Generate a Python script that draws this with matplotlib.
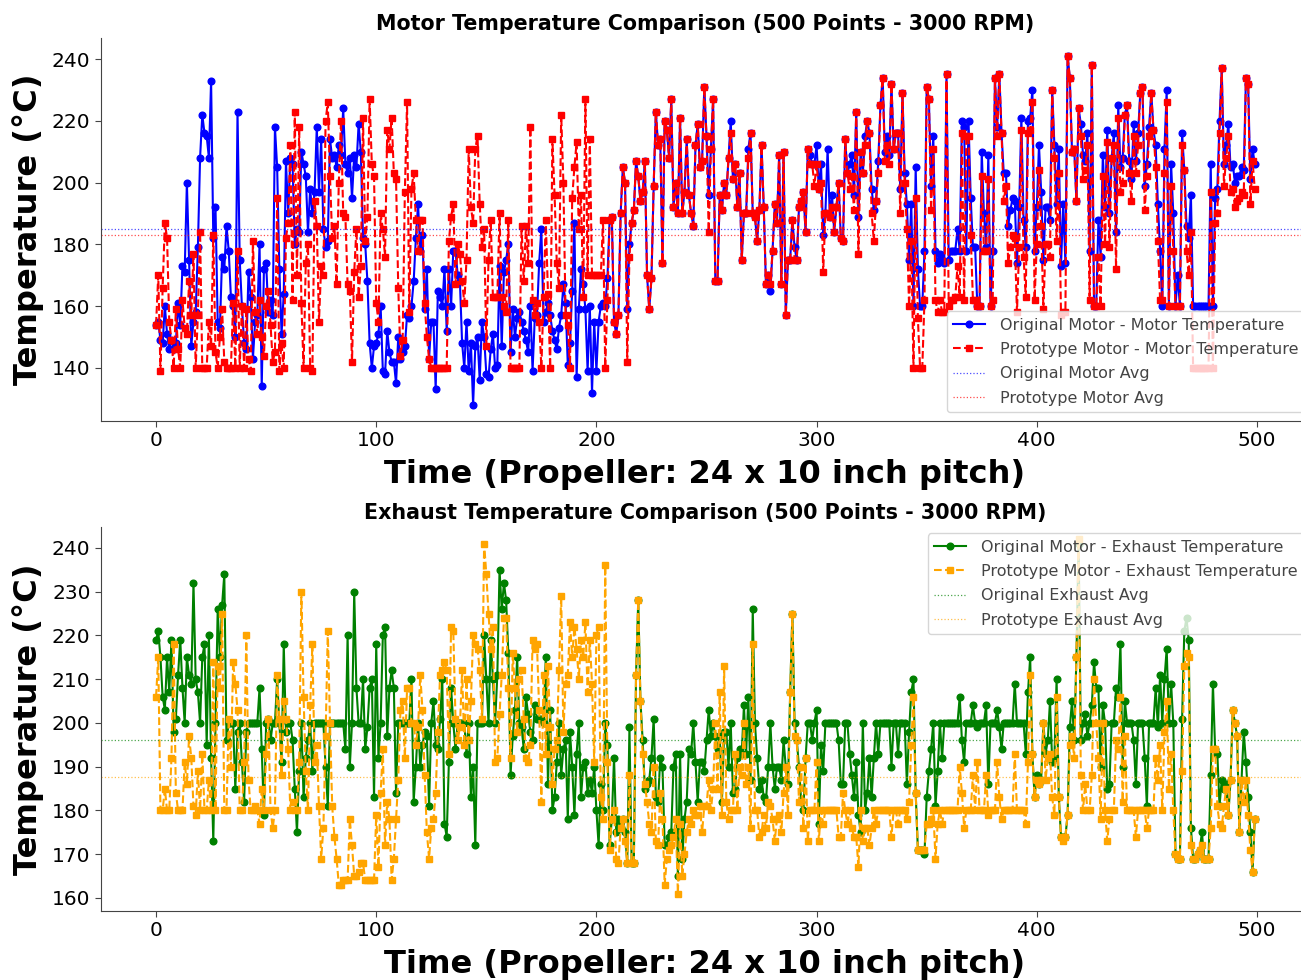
import matplotlib
matplotlib.use('Agg')
import matplotlib.pyplot as plt
import numpy as np

orig_motor = [
154,155,149,148,160,151,146,149,146,148,161,154,173,171,200,175,147,155,158,179,
208,222,216,215,208,233,182,192,155,153,176,172,186,178,163,160,150,223,175,160,
148,146,171,163,143,155,157,180,134,172,174,158,162,157,218,205,172,151,164,207,
190,208,206,180,185,184,210,206,202,184,198,190,197,218,197,214,185,179,181,214,
208,209,205,212,209,224,206,203,208,195,209,205,219,210,182,180,168,148,140,147,
148,151,160,139,138,152,145,142,142,135,150,143,145,147,157,156,160,168,182,193,
178,183,159,172,143,155,155,133,165,163,160,172,152,172,160,178,178,170,168,148,
140,155,139,148,128,147,150,136,155,150,138,137,146,151,140,141,173,147,171,175,
180,145,159,150,156,158,155,152,149,145,160,139,156,157,174,185,155,158,161,157,
152,149,146,153,157,167,161,141,148,165,187,137,159,172,167,159,139,160,132,155,
139,155,160,161,160,169,188,189,155,151,157,190,205,200,159,180,187,191,207,202,
194,197,207,170,159,169,199,223,212,214,174,220,217,208,227,192,200,190,221,190,
197,214,196,190,186,212,219,205,207,231,215,196,211,227,168,168,196,191,200,196,
208,220,201,206,192,203,175,190,190,211,216,190,189,181,191,212,192,167,170,165,
178,193,187,209,167,210,157,175,175,188,179,175,192,194,197,184,211,209,206,206,
212,198,206,183,190,211,189,196,184,192,200,182,181,214,203,206,209,196,223,189,
210,203,215,220,216,198,191,194,207,225,234,210,215,209,232,211,216,216,198,229,
203,193,175,193,160,205,172,160,160,178,231,227,199,215,178,174,177,175,174,235,
175,178,178,178,185,178,220,218,178,220,195,179,179,160,160,210,190,179,209,160,
178,234,218,235,216,203,203,186,191,195,194,174,192,221,188,179,220,221,230,178,
192,212,197,175,192,192,188,230,212,193,211,173,193,174,241,234,210,211,194,224,
219,209,207,216,178,238,160,160,188,176,209,192,217,190,208,216,184,225,205,208,
222,225,207,201,219,207,216,229,231,199,206,218,229,217,212,193,178,160,211,230,
160,206,190,160,170,160,216,204,186,182,196,160,160,160,160,160,160,160,160,206,
160,195,198,220,237,206,212,219,205,206,200,202,202,205,204,234,232,201,211,206,
]

proto_motor = [
154,170,139,166,187,182,155,149,140,159,146,140,162,153,151,168,157,177,140,157,
184,140,140,140,155,147,183,145,140,150,159,142,140,140,140,161,140,178,140,160,
140,159,143,139,181,158,151,162,150,144,160,165,154,142,145,195,139,148,140,182,
187,212,162,223,170,218,161,140,174,180,140,139,194,186,155,173,170,220,226,202,
182,186,167,200,220,190,189,167,165,142,171,185,163,173,221,181,189,227,206,202,
161,155,190,185,176,217,211,221,203,201,166,144,149,197,226,158,198,203,188,178,
188,188,161,150,143,140,140,140,140,140,140,140,140,181,189,193,167,180,177,168,
161,175,211,192,187,211,215,193,179,185,147,175,188,163,163,163,190,163,160,158,
188,140,140,140,140,140,186,168,186,174,218,162,157,161,155,140,163,188,164,140,
214,196,174,166,222,200,157,154,140,195,205,213,185,196,163,227,170,214,170,170,
170,170,170,188,140,162,188,189,155,151,157,190,205,200,142,176,187,191,207,202,
194,197,207,170,159,169,199,223,212,214,174,220,217,208,227,192,200,190,221,190,
197,214,196,190,186,212,219,205,207,231,215,184,211,227,168,168,196,191,200,196,
208,216,201,206,192,203,175,190,190,208,216,190,189,181,191,212,192,167,170,167,
178,193,187,209,167,210,157,175,175,188,175,175,192,194,197,184,211,206,206,199,
206,198,200,171,190,190,189,192,184,192,200,182,181,214,203,198,202,191,223,177,
210,203,212,220,216,190,181,194,203,225,234,207,212,206,232,211,216,216,190,229,
200,185,160,181,140,195,156,140,140,162,231,227,191,211,162,158,162,158,158,235,
160,162,162,163,173,163,216,162,215,215,183,162,162,160,160,202,178,178,201,160,
162,234,215,235,216,194,199,174,179,183,182,158,179,217,176,163,216,217,226,162,
180,204,186,159,180,180,176,230,208,181,203,157,158,158,241,234,210,211,194,224,
215,201,204,212,162,238,160,160,176,160,202,180,213,179,208,212,172,221,197,200,
222,225,203,194,215,203,212,229,231,191,202,215,229,217,205,181,162,162,203,226,
160,199,178,160,160,160,212,204,178,170,184,140,140,140,140,140,140,140,140,197,
140,187,190,216,237,199,208,215,197,198,192,194,195,197,196,234,232,193,207,198,
]

orig_exhaust = [
219,221,215,206,203,215,207,219,198,201,211,219,208,200,215,211,209,232,210,207,
200,215,218,195,220,192,173,200,226,215,227,234,196,200,200,200,185,198,200,191,
182,198,200,200,200,200,200,208,194,179,200,201,196,200,200,210,200,191,218,198,
200,200,196,185,175,189,200,183,192,196,200,189,200,200,200,200,200,190,181,200,
200,200,200,200,200,200,194,220,190,200,230,208,200,200,210,194,199,208,210,183,
218,192,200,220,222,197,208,212,208,184,200,200,200,200,200,200,210,182,190,200,
190,195,198,197,181,200,205,195,194,201,210,177,174,191,208,200,194,200,200,200,
200,193,200,183,190,172,200,200,200,220,210,200,219,210,200,211,235,226,232,228,
216,188,197,203,215,200,199,194,206,202,198,196,204,201,201,201,200,215,186,203,
180,183,191,200,188,194,196,178,198,190,179,193,200,183,190,191,184,187,184,190,
180,172,186,180,200,195,172,178,192,175,178,176,178,175,168,199,168,168,211,228,
205,196,185,186,187,192,201,183,182,192,190,172,172,174,175,190,193,165,193,169,
178,182,194,193,200,191,182,191,191,189,196,203,197,200,197,194,197,182,198,198,
190,200,184,185,192,194,193,204,193,206,187,226,200,192,185,187,183,182,190,200,
190,185,190,190,187,196,190,186,207,225,200,196,190,182,180,192,200,200,196,200,
203,177,195,189,200,200,200,200,200,200,196,186,186,200,200,193,188,183,191,179,
175,200,180,184,192,183,192,200,193,200,200,200,200,200,190,200,200,193,200,200,
200,186,198,207,210,184,171,171,171,170,183,189,194,200,181,189,200,192,200,200,
200,200,200,200,200,206,196,191,200,200,200,204,200,199,200,200,200,204,186,200,
200,200,203,199,194,200,200,200,200,200,209,200,200,200,200,193,207,215,193,183,
188,186,187,200,193,196,205,191,192,210,183,174,174,174,179,199,205,196,215,241,
196,200,202,197,200,204,214,208,208,190,204,200,185,186,200,200,208,206,218,190,
205,200,200,200,196,186,200,200,200,192,181,200,200,200,208,199,211,200,210,217,
200,209,200,170,169,169,201,221,224,219,176,169,169,170,171,175,169,169,169,188,
209,194,193,181,187,185,186,179,187,203,200,197,175,187,198,191,183,175,166,178,
]

proto_exhaust = [
206,215,180,180,185,180,180,192,218,184,180,180,180,191,186,197,192,181,179,189,
180,193,180,180,187,180,214,180,213,208,225,180,180,201,190,214,209,203,180,180,
191,220,187,180,180,181,180,177,185,180,193,201,180,176,180,211,201,188,205,201,
194,180,182,180,180,191,230,206,189,180,204,218,191,195,181,169,176,197,221,200,
181,174,169,163,163,164,164,164,178,172,165,165,166,168,168,164,164,164,164,164,
179,167,184,194,172,182,178,164,169,178,187,203,205,192,208,208,200,200,195,199,
211,203,188,175,169,176,178,184,198,211,212,214,212,193,222,221,201,196,199,212,
195,210,196,205,220,218,217,212,201,241,234,225,217,222,191,192,202,211,224,224,
208,192,216,208,198,210,212,201,192,191,195,219,217,218,203,182,211,193,213,199,
186,194,196,212,229,198,209,211,223,215,222,217,210,219,215,223,207,219,209,191,
220,222,183,178,236,191,171,178,180,169,168,176,178,173,168,188,168,168,211,228,
205,193,186,182,177,175,190,173,172,184,178,163,169,171,172,174,178,161,177,165,
170,175,178,177,180,179,179,181,175,181,181,187,180,185,200,185,207,179,213,182,
178,180,180,193,180,190,188,200,186,190,176,218,180,180,174,175,179,176,182,181,
178,173,178,179,175,184,190,179,207,225,197,196,182,190,176,192,173,180,180,180,
191,173,180,177,180,180,180,180,180,180,174,174,184,180,177,180,176,174,174,167,
180,173,176,176,172,176,180,177,180,180,180,180,180,180,174,180,180,177,180,180,
180,178,182,195,206,184,171,171,171,171,177,177,178,180,169,177,180,177,180,180,
180,180,180,180,180,190,184,176,180,180,180,188,180,191,180,180,180,188,179,180,
180,180,191,183,178,180,180,180,180,180,193,180,180,180,180,177,191,211,193,183,
187,186,187,200,187,192,193,183,179,206,183,174,173,174,179,195,197,192,215,242,
188,180,186,180,180,188,210,200,192,178,200,180,173,178,180,180,196,194,206,182,
197,180,180,180,180,174,180,180,180,180,176,180,180,180,192,187,195,180,198,205,
185,193,180,170,169,169,189,213,216,215,172,169,169,170,171,172,169,169,169,176,
194,194,181,177,176,181,185,179,187,203,200,197,175,187,182,187,179,171,166,178,
]

orig_motor_avg = 185
proto_motor_avg = 183
orig_exhaust_avg = 196
proto_exhaust_avg = 187.7

W, H = 1301, 980


def px_axes(fig, left, top, right, bottom):
    return fig.add_axes([left / W, 1 - bottom / H, (right - left) / W, (bottom - top) / H])


def draw_panel(ax, y1, y2, avg1, avg2, c1, c2, lab1, lab2, avg_lab1, avg_lab2, title, ylim, yticks, legend_xy):
    ax.plot(np.arange(len(y1)), y1, color=c1, marker='o', ms=4.8, lw=1.5, label=lab1)
    ax.plot(np.arange(len(y2)), y2, color=c2, marker='s', ms=4.8, lw=1.5, ls='--', label=lab2)
    ax.axhline(avg1, color=c1, ls=':', lw=0.9, alpha=0.7, label=avg_lab1)
    ax.axhline(avg2, color=c2, ls=':', lw=0.9, alpha=0.7, label=avg_lab2)
    ax.set_xlim(-25, 520)
    ax.set_ylim(*ylim)
    ax.set_yticks(yticks)
    ax.set_xticks([0, 100, 200, 300, 400, 500])
    ax.tick_params(labelsize=14.5, length=4, color='#444444')
    ax.spines['top'].set_visible(False)
    ax.spines['right'].set_visible(False)
    ax.spines['left'].set_color('#444444')
    ax.spines['bottom'].set_color('#444444')
    ax.set_title(title, fontsize=14.85, fontweight='bold', pad=6, x=0.5033)
    ax.set_xlabel('Time (Propeller: 24 x 10 inch pitch)', fontsize=23.1, fontweight='bold', labelpad=6, x=0.5033)
    ax.set_ylabel('Temperature (°C)', fontsize=23.1, fontweight='bold', labelpad=6)
    ax.legend(loc='lower left', bbox_to_anchor=legend_xy, bbox_transform=ax.figure.transFigure,
              fontsize=11.5, labelcolor='#444444', borderaxespad=0, labelspacing=0.58, handletextpad=0.9)


fig = plt.figure(figsize=(W / 100, H / 100), dpi=100)

ax1 = px_axes(fig, 101, 38, 1301, 421)
draw_panel(ax1, orig_motor, proto_motor, orig_motor_avg, proto_motor_avg, 'blue', 'red',
           'Original Motor - Motor Temperature', 'Prototype Motor - Motor Temperature',
           'Original Motor Avg', 'Prototype Motor Avg',
           'Motor Temperature Comparison (500 Points - 3000 RPM)',
           (122.8, 246.8), [140, 160, 180, 200, 220, 240], (947 / W, 1 - 412 / H))

ax2 = px_axes(fig, 101, 527, 1301, 911)
draw_panel(ax2, orig_exhaust, proto_exhaust, orig_exhaust_avg, proto_exhaust_avg, 'green', 'orange',
           'Original Motor - Exhaust Temperature', 'Prototype Motor - Exhaust Temperature',
           'Original Exhaust Avg', 'Prototype Exhaust Avg',
           'Exhaust Temperature Comparison (500 Points - 3000 RPM)',
           (157, 244.8), [160, 170, 180, 190, 200, 210, 220, 230, 240], (928 / W, 1 - 634 / H))

fig.savefig('out.png', dpi=100)
